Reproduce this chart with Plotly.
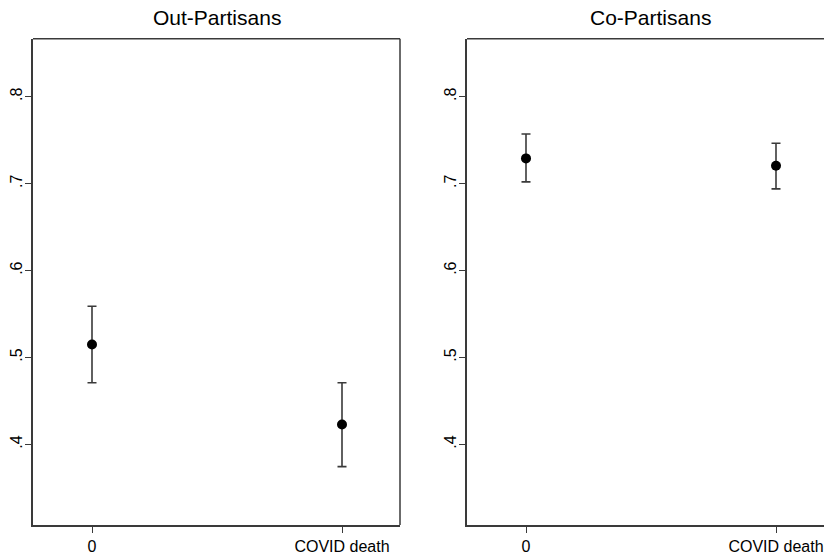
import plotly.graph_objects as go

categories = ["0", "COVID death"]
panel_titles = ["Out-Partisans", "Co-Partisans"]
out_mean = [0.515, 0.423]
out_lower = [0.471, 0.3745]
out_upper = [0.559, 0.471]
co_mean = [0.729, 0.7205]
co_lower = [0.702, 0.694]
co_upper = [0.757, 0.7465]
y_tickvals = [0.4, 0.5, 0.6, 0.7, 0.8]
y_ticktext = [".4", ".5", ".6", ".7", ".8"]

W, H = 824, 555
FONT = "Liberation Sans, Arial, Helvetica, sans-serif"
LINE = "#3a3a3a"

fig = go.Figure()
series = [(out_mean, out_lower, out_upper), (co_mean, co_lower, co_upper)]
for i, (m, lo, hi) in enumerate(series):
    sfx = "" if i == 0 else "2"
    fig.add_trace(go.Scatter(
        x=categories, y=m, mode="markers",
        marker=dict(color="black", size=10),
        error_y=dict(type="data", symmetric=False,
                     array=[h - v for h, v in zip(hi, m)],
                     arrayminus=[v - l for v, l in zip(m, lo)],
                     color=LINE, thickness=1.6, width=4.5),
        xaxis="x" + sfx, yaxis="y" + sfx, showlegend=False,
    ))

ydom = [1 - 527 / H, 1 - 39 / H]
yrange = [0.3072, 0.8665]
left_dom = [33 / W, 400 / W]
right_dom = [467 / W, 1.0]

def xaxis(dom, rng, anchor):
    return dict(domain=dom, type="category", range=rng, anchor=anchor,
                showline=True, linecolor=LINE, linewidth=1.5,
                ticks="outside", ticklen=6, tickcolor=LINE, tickwidth=1,
                showgrid=False, zeroline=False,
                tickfont=dict(family=FONT, size=16, color="black"))

def yaxis(anchor):
    return dict(domain=ydom, range=yrange, anchor=anchor,
                tickvals=y_tickvals, ticktext=y_ticktext, tickangle=-90,
                ticklabelstandoff=-3,
                showline=True, linecolor=LINE, linewidth=1.5,
                ticks="outside", ticklen=6, tickcolor=LINE, tickwidth=1,
                showgrid=False, zeroline=False,
                tickfont=dict(family=FONT, size=16, color="black"))

fig.update_layout(
    width=W, height=H, margin=dict(l=0, r=0, t=0, b=0),
    paper_bgcolor="white", plot_bgcolor="white",
    xaxis=xaxis(left_dom, [-0.236, 1.232], "y"),
    yaxis=yaxis("x"),
    xaxis2=xaxis(right_dom, [-0.236, 1.192], "y2"),
    yaxis2=yaxis("x2"),
)

shapes = [
    dict(type="line", xref="x domain", yref="y domain", x0=0, x1=1, y0=1, y1=1,
         line=dict(color=LINE, width=1.5)),
    dict(type="line", xref="x domain", yref="y domain", x0=1, x1=1, y0=0, y1=1,
         line=dict(color=LINE, width=1.5)),
    dict(type="line", xref="x2 domain", yref="y2 domain", x0=0, x1=1, y0=1, y1=1,
         line=dict(color=LINE, width=1.5)),
]
fig.update_layout(shapes=shapes)

for title, dom in zip(panel_titles, [left_dom, [467 / W, (467 + 367) / W]]):
    fig.add_annotation(text=title, xref="paper", yref="paper",
                       x=(dom[0] + dom[1]) / 2, y=1 - 18 / H,
                       xanchor="center", yanchor="middle", showarrow=False,
                       font=dict(family=FONT, size=21, color="black"))

fig.write_html("out.html", config={"displayModeBar": False},
               post_script="document.body.style.margin='0';document.body.style.padding='0';document.body.style.overflow='hidden';")
